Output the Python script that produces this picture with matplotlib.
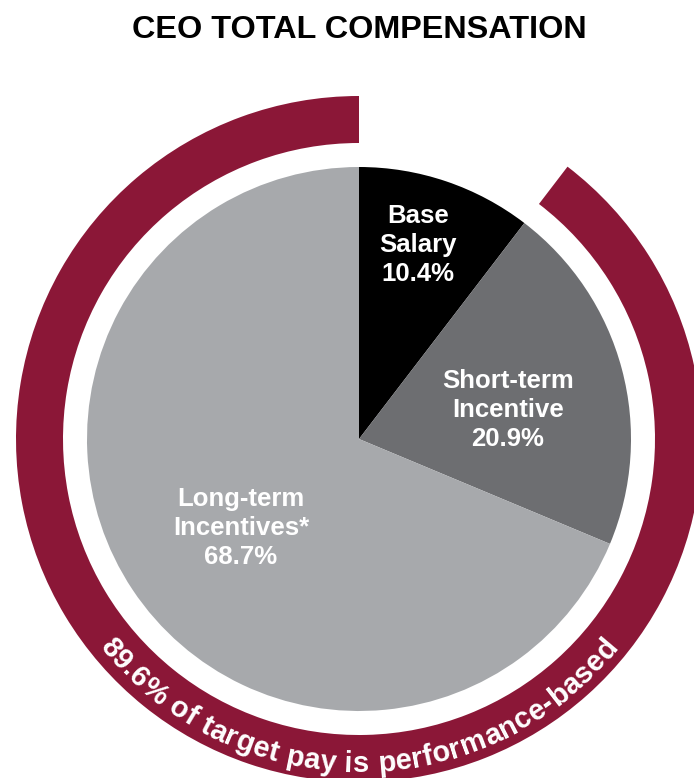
import numpy as np
import matplotlib
matplotlib.use("Agg")
import matplotlib.pyplot as plt
from matplotlib.patches import Wedge
from matplotlib.font_manager import FontProperties

# data
categories = ["Base\nSalary", "Short-term\nIncentive", "Long-term\nIncentives*"]
shares = [10.4, 20.9, 68.7]
colors = ["#000000", "#6d6e71", "#a7a9ac"]
perf_share = 89.6
ring_text = "89.6% of target pay is performance-based"
title = "CEO TOTAL COMPENSATION"

MAROON = "#8b1737"
W, H = 694, 778
cx, cy = 359, H - 439
R = 272

plt.rcParams["font.family"] = ["Liberation Sans", "DejaVu Sans"]

fig = plt.figure(figsize=(W / 100, H / 100), dpi=100)
ax = fig.add_axes([0, 0, 1, 1])

ax.pie(shares, colors=colors, startangle=90, counterclock=False,
       center=(cx, cy), radius=R, wedgeprops=dict(linewidth=0))

# outer ring for the performance based part
ring = Wedge((cx, cy), 343, 90, 90 + 360 * perf_share / 100, width=47,
             facecolor=MAROON, edgecolor="none")
ax.add_patch(ring)

# labels inside the slices
label_pos = [(418, 245), (508, 410), (241, 528)]
for lab, v, (px, py) in zip(categories, shares, label_pos):
    ax.text(px, H - py, "%s\n%.1f%%" % (lab, v), ha="center", va="center",
            color="white", fontsize=18.5, fontweight="bold", linespacing=1.28)

ax.text(W / 2 + 12, H - 30, title, ha="center", va="center",
        fontsize=23.3, fontweight="bold", color="black")

# curved text along the bottom of the ring
fs = 21
fp = FontProperties(family="Liberation Sans", weight="bold", size=fs)
renderer = fig.canvas.get_renderer()
widths = [renderer.get_text_width_height_descent(c, fp, ismath=False)[0]
          for c in ring_text]
r_base = 333
r_mid = r_base - 0.4 * fs * 100 / 72
span = sum(widths) / r_mid
theta = np.deg2rad(270) - span / 2
for c, w in zip(ring_text, widths):
    a = theta + (w / 2) / r_mid
    x = cx + r_base * np.cos(a)
    y = cy + r_base * np.sin(a)
    ax.text(x, y, c, fontproperties=fp, color="white", ha="center",
            va="baseline", rotation=np.rad2deg(a) + 90, rotation_mode="anchor")
    theta += w / r_mid

ax.set_xlim(0, W)
ax.set_ylim(0, H)
ax.set_aspect("equal")
ax.axis("off")

fig.savefig("out.png", dpi=100)
